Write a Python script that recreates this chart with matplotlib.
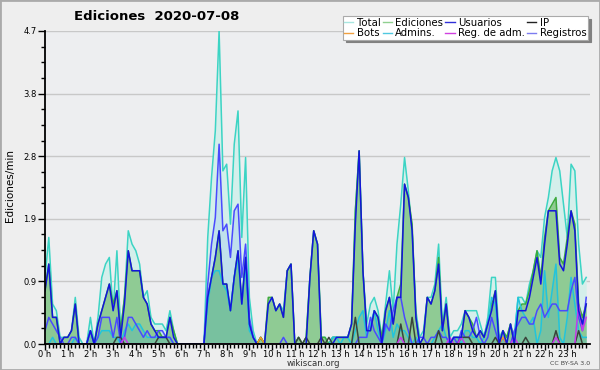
import numpy as np
import matplotlib
matplotlib.use('Agg')
import matplotlib.pyplot as plt
from matplotlib.lines import Line2D
from matplotlib.patches import Rectangle

# 10 minute bins, one row per hour (6 values)
total = [
    1.0, 1.6, 0.6, 0.5, 0.1, 0.1,
    0.1, 0.2, 0.7, 0.1, 0.0, 0.0,
    0.4, 0.0, 0.4, 1.0, 1.2, 1.3,
    0.5, 1.4, 0.2, 0.7, 1.7, 1.5,
    1.4, 1.2, 0.7, 0.8, 0.4, 0.3,
    0.3, 0.3, 0.2, 0.5, 0.2, 0.0,
    0.0, 0.0, 0.0, 0.0, 0.0, 0.0,
    0.0, 1.6, 2.5, 3.2, 4.7, 2.6,
    2.7, 1.8, 3.0, 3.5, 1.6, 2.8,
    0.7, 0.2, 0.0, 0.1, 0.0, 0.6,
    0.7, 0.5, 0.6, 0.5, 1.1, 1.2,
    0.0, 0.1, 0.0, 0.1, 1.0, 1.7,
    1.5, 0.1, 0.1, 0.0, 0.1, 0.1,
    0.1, 0.1, 0.1, 0.3, 2.0, 2.9,
    1.1, 0.3, 0.6, 0.7, 0.5, 0.1,
    0.6, 1.1, 0.5, 1.5, 2.1, 2.8,
    2.3, 1.7, 0.5, 0.1, 0.2, 0.7,
    0.7, 0.9, 1.5, 0.3, 0.7, 0.1,
    0.2, 0.2, 0.3, 0.5, 0.5, 0.5,
    0.5, 0.3, 0.1, 0.4, 1.0, 1.0,
    0.1, 0.2, 0.1, 0.3, 0.1, 0.7,
    0.7, 0.6, 0.9, 1.1, 1.4, 1.3,
    1.9, 2.2, 2.6, 2.8, 2.6, 2.1,
    1.6, 2.7, 2.6, 1.5, 0.9, 1.0,
]
ediciones = [
    0.8, 1.2, 0.4, 0.4, 0.0, 0.1,
    0.1, 0.2, 0.6, 0.0, 0.0, 0.0,
    0.2, 0.0, 0.3, 0.5, 0.7, 0.9,
    0.6, 0.8, 0.2, 0.7, 1.4, 1.1,
    1.1, 1.1, 0.7, 0.6, 0.3, 0.2,
    0.2, 0.1, 0.1, 0.4, 0.2, 0.0,
    0.0, 0.0, 0.0, 0.0, 0.0, 0.0,
    0.0, 0.7, 1.0, 1.3, 1.7, 0.9,
    0.9, 0.5, 1.0, 1.4, 0.6, 1.3,
    0.3, 0.1, 0.0, 0.1, 0.0, 0.7,
    0.7, 0.5, 0.6, 0.4, 1.1, 1.2,
    0.0, 0.1, 0.0, 0.1, 1.0, 1.7,
    1.5, 0.1, 0.1, 0.0, 0.1, 0.1,
    0.1, 0.1, 0.1, 0.3, 2.0, 2.9,
    1.1, 0.2, 0.2, 0.5, 0.4, 0.1,
    0.5, 0.7, 0.3, 0.7, 0.9, 2.4,
    2.2, 1.8, 0.4, 0.0, 0.1, 0.7,
    0.6, 0.8, 1.3, 0.2, 0.6, 0.0,
    0.1, 0.1, 0.1, 0.5, 0.4, 0.3,
    0.1, 0.2, 0.1, 0.3, 0.6, 0.8,
    0.0, 0.2, 0.1, 0.3, 0.0, 0.5,
    0.6, 0.6, 0.8, 1.1, 1.4, 1.0,
    1.6, 2.0, 2.1, 2.2, 1.3, 1.2,
    1.6, 2.0, 1.8, 0.6, 0.4, 0.6,
]
usuarios = [
    0.8, 1.2, 0.4, 0.4, 0.0, 0.1,
    0.1, 0.2, 0.6, 0.0, 0.0, 0.0,
    0.2, 0.0, 0.3, 0.5, 0.7, 0.9,
    0.5, 0.8, 0.1, 0.6, 1.4, 1.1,
    1.1, 1.1, 0.7, 0.6, 0.3, 0.2,
    0.1, 0.1, 0.1, 0.4, 0.1, 0.0,
    0.0, 0.0, 0.0, 0.0, 0.0, 0.0,
    0.0, 0.7, 1.0, 1.3, 1.7, 0.9,
    0.9, 0.5, 1.0, 1.4, 0.6, 1.3,
    0.3, 0.1, 0.0, 0.0, 0.0, 0.6,
    0.7, 0.5, 0.6, 0.4, 1.1, 1.2,
    0.0, 0.0, 0.0, 0.0, 1.0, 1.7,
    1.5, 0.0, 0.0, 0.0, 0.0, 0.1,
    0.1, 0.1, 0.1, 0.3, 1.8, 2.9,
    1.1, 0.2, 0.2, 0.5, 0.4, 0.0,
    0.5, 0.7, 0.3, 0.7, 0.7, 2.4,
    2.2, 1.7, 0.4, 0.0, 0.1, 0.7,
    0.6, 0.8, 1.2, 0.2, 0.6, 0.0,
    0.1, 0.1, 0.1, 0.5, 0.4, 0.2,
    0.1, 0.2, 0.1, 0.3, 0.5, 0.8,
    0.0, 0.2, 0.0, 0.3, 0.0, 0.5,
    0.5, 0.5, 0.7, 1.0, 1.3, 0.9,
    1.5, 2.0, 2.0, 2.0, 1.2, 1.1,
    1.5, 2.0, 1.7, 0.5, 0.3, 0.6,
]
ip = [
    0.0, 0.0, 0.0, 0.0, 0.0, 0.0,
    0.0, 0.0, 0.0, 0.0, 0.0, 0.0,
    0.0, 0.0, 0.0, 0.0, 0.0, 0.0,
    0.0, 0.1, 0.1, 0.0, 0.0, 0.0,
    0.0, 0.0, 0.0, 0.0, 0.0, 0.0,
    0.1, 0.1, 0.1, 0.0, 0.0, 0.0,
    0.0, 0.0, 0.0, 0.0, 0.0, 0.0,
    0.0, 0.0, 0.0, 0.0, 0.0, 0.0,
    0.0, 0.0, 0.0, 0.0, 0.0, 0.0,
    0.0, 0.0, 0.0, 0.1, 0.0, 0.0,
    0.0, 0.0, 0.0, 0.0, 0.0, 0.0,
    0.0, 0.1, 0.0, 0.1, 0.0, 0.0,
    0.0, 0.1, 0.0, 0.1, 0.0, 0.0,
    0.0, 0.0, 0.0, 0.0, 0.4, 0.0,
    0.0, 0.0, 0.0, 0.0, 0.0, 0.0,
    0.0, 0.0, 0.0, 0.0, 0.3, 0.0,
    0.0, 0.4, 0.0, 0.0, 0.0, 0.0,
    0.0, 0.0, 0.2, 0.0, 0.0, 0.0,
    0.0, 0.0, 0.1, 0.1, 0.1, 0.0,
    0.0, 0.0, 0.0, 0.0, 0.0, 0.1,
    0.0, 0.0, 0.0, 0.0, 0.0, 0.0,
    0.0, 0.1, 0.0, 0.0, 0.0, 0.0,
    0.0, 0.0, 0.0, 0.2, 0.0, 0.0,
    0.0, 0.0, 0.0, 0.2, 0.0, 0.0,
]
bots = [0.0] * 144
bots[57] = 0.1
bots[121] = 0.1
admins = [
    0.0, 0.0, 0.1, 0.0, 0.0, 0.0,
    0.0, 0.0, 0.1, 0.0, 0.0, 0.0,
    0.2, 0.0, 0.1, 0.2, 0.2, 0.2,
    0.1, 0.1, 0.0, 0.2, 0.3, 0.2,
    0.3, 0.3, 0.2, 0.1, 0.1, 0.1,
    0.1, 0.1, 0.1, 0.1, 0.0, 0.0,
    0.0, 0.0, 0.0, 0.0, 0.0, 0.0,
    0.0, 0.6, 1.0, 1.1, 1.1, 0.9,
    0.8, 0.5, 1.0, 1.3, 0.6, 1.2,
    0.2, 0.1, 0.0, 0.0, 0.0, 0.0,
    0.0, 0.0, 0.0, 0.0, 0.0, 0.0,
    0.0, 0.0, 0.0, 0.0, 0.0, 0.0,
    0.0, 0.0, 0.0, 0.0, 0.1, 0.1,
    0.0, 0.1, 0.1, 0.0, 0.2, 0.4,
    0.5, 0.1, 0.3, 0.5, 0.2, 0.0,
    0.2, 0.5, 0.1, 0.3, 0.2, 0.2,
    0.1, 0.0, 0.1, 0.0, 0.0, 0.0,
    0.0, 0.1, 0.2, 0.3, 0.1, 0.0,
    0.1, 0.1, 0.0, 0.2, 0.2, 0.1,
    0.1, 0.0, 0.1, 0.3, 0.7, 0.6,
    0.0, 0.1, 0.0, 0.0, 0.1, 0.7,
    0.5, 0.4, 0.3, 0.4, 0.0, 0.2,
    1.1, 0.4, 0.8, 1.2, 0.1, 0.0,
    0.4, 1.0, 0.6, 0.2, 0.1, 0.1,
]
reg_adm = [0.0] * 144
for i, v in [(21, 0.1), (94, 0.1), (107, 0.1), (110, 0.1), (124, 0.1),
             (135, 0.1), (141, 0.6), (142, 0.2), (143, 0.4)]:
    reg_adm[i] = v
registros = [
    0.2, 0.4, 0.3, 0.2, 0.1, 0.0,
    0.0, 0.1, 0.1, 0.0, 0.0, 0.0,
    0.2, 0.0, 0.1, 0.4, 0.4, 0.4,
    0.1, 0.4, 0.0, 0.1, 0.4, 0.4,
    0.3, 0.2, 0.1, 0.2, 0.1, 0.1,
    0.2, 0.2, 0.1, 0.1, 0.0, 0.0,
    0.0, 0.0, 0.0, 0.0, 0.0, 0.0,
    0.0, 0.9, 1.5, 1.9, 3.0, 1.7,
    1.8, 1.3, 2.0, 2.1, 1.0, 1.5,
    0.4, 0.1, 0.0, 0.0, 0.0, 0.0,
    0.0, 0.0, 0.0, 0.1, 0.0, 0.0,
    0.0, 0.0, 0.0, 0.0, 0.0, 0.0,
    0.0, 0.0, 0.0, 0.0, 0.0, 0.0,
    0.0, 0.0, 0.0, 0.0, 0.0, 0.1,
    0.1, 0.1, 0.4, 0.2, 0.1, 0.0,
    0.3, 0.2, 0.5, 0.7, 0.7, 0.4,
    0.2, 0.0, 0.0, 0.1, 0.1, 0.0,
    0.1, 0.1, 0.2, 0.1, 0.1, 0.0,
    0.1, 0.0, 0.2, 0.1, 0.1, 0.2,
    0.4, 0.1, 0.0, 0.1, 0.4, 0.2,
    0.0, 0.1, 0.0, 0.0, 0.2, 0.3,
    0.4, 0.4, 0.3, 0.3, 0.5, 0.6,
    0.4, 0.5, 0.6, 0.6, 0.5, 0.5,
    0.5, 0.8, 1.0, 0.4, 0.2, 0.7,
]

hour_labels = ['%d h' % h for h in range(24)]
ymax = 4.7

x = np.arange(len(total)) / 6.0

fig = plt.figure(figsize=(6, 3.7), dpi=100)
fig.patch.set_facecolor('#eeeeee')
ax = fig.add_axes([45 / 600, 26 / 370, 545 / 600, 313 / 370])
ax.set_facecolor('#edeef0')

# fills first, lines on top
ax.fill_between(x, total, color='#d4efeb', lw=0, zorder=2)
ax.fill_between(x, registros, color='#9cc4f0', alpha=0.35, lw=0, zorder=3)
ax.fill_between(x, ediciones, color='#7cc27c', alpha=0.78, lw=0, zorder=4)
ax.fill_between(x, admins, color='#40b0c0', alpha=0.25, lw=0, zorder=5)

lw = 1.1
ax.plot(x, total, color='#3cd4c4', lw=lw, zorder=6)
ax.plot(x, ediciones, color='#3daa3d', lw=lw, zorder=7)
ax.plot(x, admins, color='#22c4dc', lw=lw, zorder=8)
ax.plot(x, registros, color='#4a4aff', lw=lw, zorder=9)
ax.plot(x, ip, color='#3a443a', lw=lw, zorder=10)
ax.plot(x, bots, color='#f0a020', lw=lw, zorder=10)
ax.plot(x, reg_adm, color='#c83ae8', lw=lw, zorder=10)
ax.plot(x, usuarios, color='#1414dc', lw=lw, zorder=11)

ax.set_xlim(0, 24)
ax.set_ylim(0, ymax)

yt = np.linspace(0, ymax, 6)
ax.set_yticks(yt)
ax.set_yticklabels(['%.1f' % v for v in yt])
ax.set_yticks(np.arange(0, ymax + 0.01, ymax / 20), minor=True)
ax.yaxis.grid(True, color='#c8c8c8', lw=1)
ax.set_axisbelow(True)

ax.set_xticks(np.arange(24))
ax.set_xticklabels(hour_labels)
ax.set_xticks(np.arange(0, 24, 1 / 6), minor=True)

ax.tick_params(axis='x', which='major', length=4, width=1, labelsize=6, pad=0.5)
ax.tick_params(axis='x', which='minor', length=3, width=1)
ax.tick_params(axis='y', which='major', length=5, width=1, labelsize=6, pad=1)
ax.tick_params(axis='y', which='minor', length=3, width=1)

for s in ['top', 'right']:
    ax.spines[s].set_visible(False)
for s in ['left', 'bottom']:
    ax.spines[s].set_linewidth(1.3)
    ax.spines[s].set_zorder(20)

# texts
fig.text(157 / 600, 1 - 17 / 370, 'Ediciones  2020-07-08', ha='center', va='center',
         fontsize=9.5, fontweight='bold')
fig.text(10 / 600, 0.5, 'Ediciones/min', rotation=90, ha='center', va='center', fontsize=7.5)
fig.text(313 / 600, 1 - 363.5 / 370, 'wikiscan.org', ha='center', va='center',
         fontsize=6.2, color='#333333')
fig.text(590 / 600, 1 - 363.5 / 370, 'CC BY-SA 3.0', ha='right', va='center',
         fontsize=4.5, color='#444444')

# legend (column order: 4 columns, 2 rows)
leg_items = [
    ('Total', '#a8e6e0'), ('Bots', '#f0a040'),
    ('Ediciones', '#90d090'), ('Admins.', '#50c8e0'),
    ('Usuarios', '#3030d8'), ('Reg. de adm.', '#d040e0'),
    ('IP', '#222222'), ('Registros', '#7c7cf0'),
]
handles = [Line2D([], [], color=c, lw=1) for _, c in leg_items]
labels = [n for n, _ in leg_items]
leg = fig.legend(handles, labels, ncol=4, loc='upper right',
                 bbox_to_anchor=(593 / 600, 1 - 11 / 370), fontsize=7.3,
                 handlelength=0.9, handletextpad=0.35, columnspacing=0.2,
                 labelspacing=0.05, borderpad=0.15, fancybox=False,
                 shadow={'color': '#808080', 'alpha': 1}, framealpha=1)
leg.get_frame().set_edgecolor('#aaaaaa')
leg.get_frame().set_linewidth(0.8)

fig.add_artist(Rectangle((0, 0), 1, 1, transform=fig.transFigure, fill=False,
                         ec='#aaaaaa', lw=2))

fig.savefig('out.png', dpi=100, facecolor=fig.get_facecolor())
